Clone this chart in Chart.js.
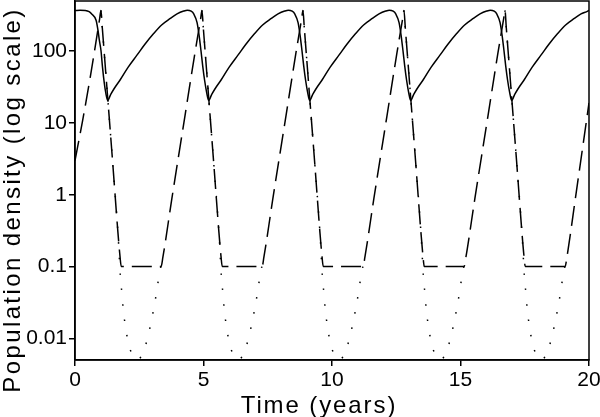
<!DOCTYPE html>
<html>
<head>
<meta charset="utf-8">
<script src="https://cdn.jsdelivr.net/npm/chart.js@4/dist/chart.umd.min.js"></script>
<style>
  body { margin: 0; background: #fff; }
</style>
</head>
<body>
<canvas id="chart" width="600" height="417"></canvas>
<script>
const xTicks = [0, 5, 10, 15, 20];
const yTicks = [0.01, 0.1, 1, 10, 100];
const yTickLabels = ["0.01", "0.1", "1", "10", "100"];
const xTitle = "Time (years)";
const yTitle = "Population density (log scale)";

// solid line (prey)
const preyTime = [
  0, 0.2, 0.4, 0.55, 0.65, 0.82, 0.9, 0.95, 1.01, 1.07, 1.14, 1.2,
  1.27, 1.39, 1.52, 1.76, 2.07, 2.41, 2.72, 3.06, 3.37, 3.71, 3.97, 4.23, 4.37, 4.52, 4.62, 4.75, 4.83, 4.90, 4.97, 5.04, 5.12,
  5.20, 5.32, 5.45, 5.69, 6.00, 6.34, 6.65, 6.99, 7.30, 7.64, 7.90, 8.16, 8.30, 8.45, 8.55, 8.68, 8.76, 8.83, 8.90, 8.97, 9.05,
  9.13, 9.25, 9.38, 9.62, 9.93, 10.27, 10.58, 10.92, 11.23, 11.57, 11.83, 12.09, 12.23, 12.38, 12.48, 12.61, 12.69, 12.76, 12.83, 12.90, 12.98,
  13.06, 13.18, 13.31, 13.55, 13.86, 14.20, 14.51, 14.85, 15.16, 15.50, 15.76, 16.02, 16.16, 16.31, 16.41, 16.54, 16.62, 16.69, 16.76, 16.83, 16.91,
  16.99, 17.11, 17.24, 17.48, 17.79, 18.13, 18.44, 18.78, 19.09, 19.43, 19.69, 19.95, 20
];
const preyValue = [
  368, 373, 370, 355, 330, 270, 190, 140, 103, 60, 36, 26,
  20.7, 25, 30, 40, 60, 88, 125, 176, 232, 286, 330, 362, 372, 360, 330, 250, 165, 103, 62, 40, 27,
  20.7, 25, 30, 40, 60, 88, 125, 176, 232, 286, 330, 362, 372, 360, 330, 250, 165, 103, 62, 40, 27,
  20.7, 25, 30, 40, 60, 88, 125, 176, 232, 286, 330, 362, 372, 360, 330, 250, 165, 103, 62, 40, 27,
  20.7, 25, 30, 40, 60, 88, 125, 176, 232, 286, 330, 362, 372, 360, 330, 250, 165, 103, 62, 40, 27,
  20.7, 25, 30, 40, 60, 88, 125, 176, 232, 286, 330, 362, 372
];

// dashed line (predator, floor at 0.1)
const predTime = [
  0, 0.3, 0.6, 0.96,
  1.01, 1.06, 1.27, 1.47, 1.67, 1.75, 1.80, 3.35, 3.42, 3.77, 4.27, 4.67, 4.89,
  4.94, 4.99, 5.20, 5.40, 5.60, 5.68, 5.73, 7.28, 7.35, 7.70, 8.20, 8.60, 8.82,
  8.87, 8.92, 9.13, 9.33, 9.53, 9.61, 9.66, 11.21, 11.28, 11.63, 12.13, 12.53, 12.75,
  12.80, 12.85, 13.06, 13.26, 13.46, 13.54, 13.59, 15.14, 15.21, 15.56, 16.06, 16.46, 16.68,
  16.73, 16.78, 16.99, 17.19, 17.39, 17.47, 17.52, 19.07, 19.14, 19.49, 20
];
const predValue = [
  3.0, 11, 45, 285,
  370, 217, 23, 2.7, 0.3, 0.14, 0.1, 0.1, 0.135, 0.89, 12, 96, 285,
  370, 217, 23, 2.7, 0.3, 0.14, 0.1, 0.1, 0.135, 0.89, 12, 96, 285,
  370, 217, 23, 2.7, 0.3, 0.14, 0.1, 0.1, 0.135, 0.89, 12, 96, 285,
  370, 217, 23, 2.7, 0.3, 0.14, 0.1, 0.1, 0.135, 0.89, 12, 96, 285,
  370, 217, 23, 2.7, 0.3, 0.14, 0.1, 0.1, 0.135, 1.0, 19
];

// dotted line (predator without the floor), null = gap
const freeTime = [
  1.01, 1.06, 1.27, 1.47, 1.67, 1.77, 1.83, 1.88, 1.96, 2.06, 2.24, 2.45, 2.66, 2.84, 2.97, 3.09, 3.19, 3.28, 3.34, 3.35,
  4.94, 4.99, 5.20, 5.40, 5.60, 5.70, 5.76, 5.81, 5.89, 5.99, 6.17, 6.38, 6.59, 6.77, 6.90, 7.02, 7.12, 7.21, 7.27, 7.28,
  8.87, 8.92, 9.13, 9.33, 9.53, 9.63, 9.69, 9.74, 9.82, 9.92, 10.10, 10.31, 10.52, 10.70, 10.83, 10.95, 11.05, 11.14, 11.20, 11.21,
  12.80, 12.85, 13.06, 13.26, 13.46, 13.56, 13.62, 13.67, 13.75, 13.85, 14.03, 14.24, 14.45, 14.63, 14.76, 14.88, 14.98, 15.07, 15.13, 15.14,
  16.73, 16.78, 16.99, 17.19, 17.39, 17.49, 17.55, 17.60, 17.68, 17.78, 17.96, 18.17, 18.38, 18.56, 18.69, 18.81, 18.91, 19.00, 19.06
];
const freeValue = [
  370, 217, 23, 2.7, 0.3, 0.07, 0.041, 0.0245, 0.015, 0.0092, 0.0058, 0.0051, 0.0065, 0.0107, 0.0175, 0.029, 0.048, 0.079, 0.1, null,
  370, 217, 23, 2.7, 0.3, 0.07, 0.041, 0.0245, 0.015, 0.0092, 0.0058, 0.0051, 0.0065, 0.0107, 0.0175, 0.029, 0.048, 0.079, 0.1, null,
  370, 217, 23, 2.7, 0.3, 0.07, 0.041, 0.0245, 0.015, 0.0092, 0.0058, 0.0051, 0.0065, 0.0107, 0.0175, 0.029, 0.048, 0.079, 0.1, null,
  370, 217, 23, 2.7, 0.3, 0.07, 0.041, 0.0245, 0.015, 0.0092, 0.0058, 0.0051, 0.0065, 0.0107, 0.0175, 0.029, 0.048, 0.079, 0.1, null,
  370, 217, 23, 2.7, 0.3, 0.07, 0.041, 0.0245, 0.015, 0.0092, 0.0058, 0.0051, 0.0065, 0.0107, 0.0175, 0.029, 0.048, 0.079, 0.1
];

function points(times, values) {
  return times.map((t, i) => ({ x: t, y: values[i] }));
}

const font = "'Liberation Sans', Arial, Helvetica, sans-serif";

// box round the plot area + the two axis titles (set wide, with letter spacing)
const frame = {
  id: "frame",
  afterDraw(chart) {
    const a = chart.chartArea;
    const ctx = chart.ctx;
    ctx.save();
    ctx.strokeStyle = "#000";
    ctx.lineWidth = 1.5;
    ctx.strokeRect(a.left, a.top, a.right - a.left, a.bottom - a.top);

    ctx.fillStyle = "#000";
    ctx.font = "24px " + font;
    ctx.textAlign = "left";
    ctx.textBaseline = "alphabetic";

    ctx.letterSpacing = "1.9px";
    let w = ctx.measureText(xTitle).width;
    ctx.fillText(xTitle, 319 - w / 2, 413);

    ctx.letterSpacing = "2.4px";
    w = ctx.measureText(yTitle).width;
    ctx.translate(20, 200);
    ctx.rotate(-Math.PI / 2);
    ctx.fillText(yTitle, -w / 2, 0);

    ctx.restore();
  },
};

new Chart(document.querySelector("#chart").getContext("2d"), {
  type: "line",
  data: {
    datasets: [
      {
        label: "prey",
        data: points(preyTime, preyValue),
        borderColor: "#000",
        borderWidth: 1.5,
        pointRadius: 0,
        cubicInterpolationMode: "monotone",
      },
      {
        label: "predator",
        data: points(predTime, predValue),
        borderColor: "#000",
        borderWidth: 1.5,
        borderDash: [20, 8],
        pointRadius: 0,
        cubicInterpolationMode: "monotone",
      },
      {
        label: "predator (no floor)",
        data: points(freeTime, freeValue),
        borderColor: "#000",
        borderWidth: 1.5,
        borderDash: [1.5, 14],
        pointRadius: 0,
        spanGaps: false,
        cubicInterpolationMode: "monotone",
      },
    ],
  },
  options: {
    responsive: false,
    animation: false,
    devicePixelRatio: 1,
    layout: { padding: { top: 1, right: 11, left: 0, bottom: 0 } },
    plugins: {
      legend: { display: false },
      tooltip: { enabled: false },
    },
    scales: {
      x: {
        type: "linear",
        min: 0,
        max: 20,
        afterBuildTicks: (s) => { s.ticks = xTicks.map((v) => ({ value: v })); },
        afterFit: (s) => { s.height = 57; s.paddingLeft = 0; s.paddingRight = 0; },
        ticks: { color: "#000", font: { family: font, size: 21 }, padding: 2, maxRotation: 0 },
        grid: { drawOnChartArea: false, drawTicks: true, tickLength: 6, color: "#000", lineWidth: 1.5 },
        border: { color: "#000", width: 1.5 },
      },
      y: {
        type: "logarithmic",
        min: 0.005,
        max: 500,
        afterBuildTicks: (s) => { s.ticks = yTicks.map((v) => ({ value: v })); },
        afterFit: (s) => { s.width = 75; s.paddingTop = 0; s.paddingBottom = 0; },
        ticks: {
          color: "#000",
          font: { family: font, size: 21 },
          padding: 2,
          callback: (v, i) => yTickLabels[i],
        },
        grid: { drawOnChartArea: false, drawTicks: true, tickLength: 6, color: "#000", lineWidth: 1.5 },
        border: { color: "#000", width: 1.5 },
      },
    },
  },
  plugins: [frame],
});
</script>
</body>
</html>
